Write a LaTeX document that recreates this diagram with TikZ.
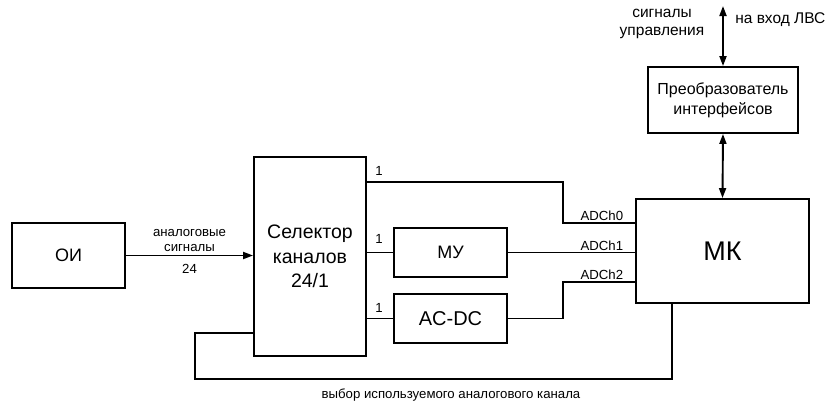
\documentclass[tikz,border=0pt]{standalone}
\usepackage{fontspec}
\setmainfont{Liberation Sans}
\usetikzlibrary{arrows.meta}
\begin{document}
\begin{tikzpicture}[x=1pt, y=-1pt,
    line width=1.9pt,
    box/.style={draw, line width=1.9pt, inner sep=0pt, align=center},
    lbl/.style={font=\fontsize{13.2}{15}\selectfont, inner sep=1pt},
    num/.style={font=\fontsize{13.2}{15}\selectfont, inner sep=1pt},
    arr/.style={-{Triangle[length=10pt, width=7pt]}},
    darr/.style={{Triangle[length=10pt, width=7pt]}-{Triangle[length=10pt, width=7pt]}}
]
\useasboundingbox (0,0) rectangle (830,405);
\node[box, minimum width=113pt, minimum height=65pt, font=\fontsize{18}{22}\selectfont] (oi) at (68.5,255.5) {ОИ};
\node[box, minimum width=112pt, minimum height=199pt, font=\fontsize{19.5}{24.5}\selectfont] (sel) at (310,256.5) {Селектор\\каналов\\24/1};
\node[box, minimum width=113pt, minimum height=49pt, font=\fontsize{18}{22}\selectfont] (mu) at (450.5,252.5) {МУ};
\node[box, minimum width=113pt, minimum height=49pt, font=\fontsize{20}{24}\selectfont] (acdc) at (450.5,318.5) {AC-DC};
\node[box, minimum width=173pt, minimum height=104pt, font=\fontsize{27}{32}\selectfont] (mk) at (722.5,251) {МК};
\node[box, minimum width=150pt, minimum height=66pt, font=\fontsize{16}{20}\selectfont] (conv) at (723,100) {Преобразователь\\интерфейсов};
\coordinate (lan) at (723,6);

\draw[arr] (oi.east) -- node[above, lbl, align=center, yshift=2pt] {аналоговые\\сигналы} node[below, num, yshift=-7pt] {24} (sel.west |- oi.east);

\draw (sel.east |- 0,182) -| (563,223) -- (mk.west |- 0,223) node[lbl, above left, xshift=-10pt] {ADCh0};
\draw (sel.east |- mu) -- (mu.west);
\draw (mu.east) -- (mk.west |- mu.east) node[lbl, above left, xshift=-10pt] {ADCh1};
\draw (sel.east |- acdc) -- (acdc.west);
\draw (acdc.east) -| (563,282) -- (mk.west |- 0,282) node[lbl, above left, xshift=-10pt] {ADCh2};

\node[num, anchor=south] at ([xshift=12pt, yshift=5pt]sel.east |- 0,182) {1};
\node[num, anchor=south] at ([xshift=12pt, yshift=7pt]sel.east |- mu) {1};
\node[num, anchor=south] at ([xshift=12pt, yshift=4pt]sel.east |- acdc) {1};

\draw (mk.south -| 672,0) |- (195,379) |- (sel.west |- 0,333);
\node[num] (sel-lbl) at (451,395) {выбор используемого аналогового канала};

\draw[darr] (conv.south) -- (mk.north);
\draw[darr] (conv.north) -- (lan);
\node[font=\fontsize{15.5}{18}\selectfont, align=center] (ctrl) at (662,24) {сигналы\\управления};
\node[font=\fontsize{15.5}{18}\selectfont, anchor=west] (lvs) at (731,20) {на вход ЛВС};
\end{tikzpicture}
\end{document}
